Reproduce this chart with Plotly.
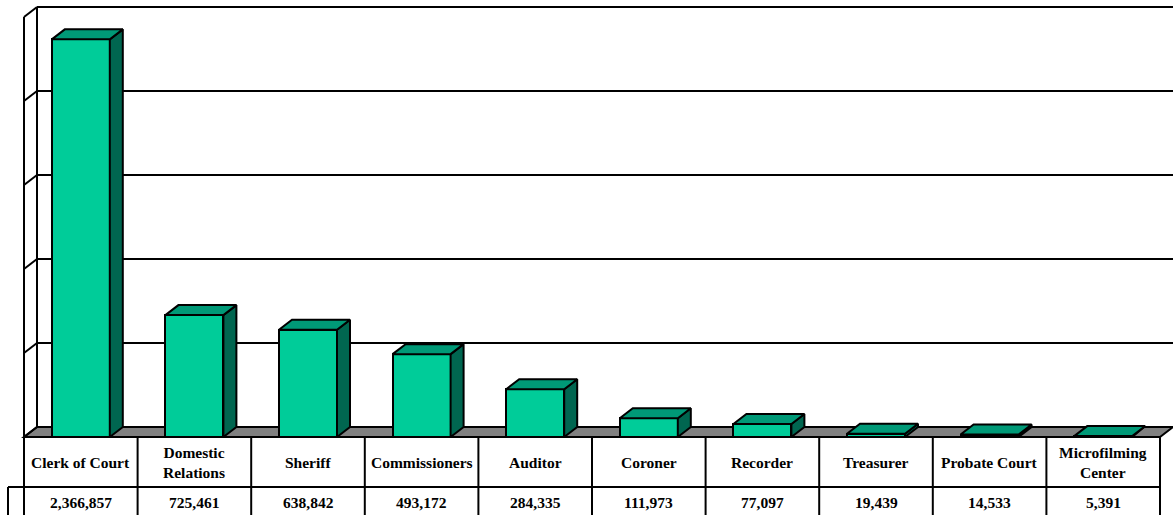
import plotly.graph_objects as go

# ---------------- data ----------------
categories = ["Clerk of Court", "Domestic Relations", "Sheriff", "Commissioners",
              "Auditor", "Coroner", "Recorder", "Treasurer", "Probate Court",
              "Microfilming Center"]
tick_labels = ["Clerk of Court", "Domestic<br>Relations", "Sheriff", "Commissioners",
               "Auditor", "Coroner", "Recorder", "Treasurer", "Probate Court",
               "Microfilming<br>Center"]
values = [2366857, 725461, 638842, 493172, 284335, 111973, 77097, 19439, 14533, 5391]
grid_values = [0, 500000, 1000000, 1500000, 2000000, 2500000]

# ---------------- layout geometry (pixels -> data units) ----------------
W, H = 1173, 515
COL = 113.6          # px per category
X0PX = 24            # px of left edge of first column (front plane)
FLOOR_PX = 437       # px row of value 0 on the front plane
PLOT_H_PX = 420      # px for the full value range
YMAX = grid_values[-1]
KY = YMAX / PLOT_H_PX
xmin = -0.5 - X0PX / COL
xmax = xmin + W / COL
ytop = FLOOR_PX * KY
ybot = -(H - FLOOR_PX) * KY
DX = 13 / COL        # 3D depth offset
DY = 10 * KY
BW = 58 / COL        # bar width
n = len(values)


def py(px):
    return ytop - px * KY


def pxx(px):
    return xmin + px / COL


FRONT = "#00CC99"
TOP = "#009977"
SIDE = "#006650"
FLOOR = "#808080"

fig = go.Figure()

# front faces of the bars
fig.add_trace(go.Bar(
    x=list(range(n)), y=values, width=BW,
    marker=dict(color=FRONT, line=dict(color="black", width=2)),
    hoverinfo="skip", showlegend=False))

# top and side faces
tx, ty, sx, sy = [], [], [], []
for i, v in enumerate(values):
    l, r = i - BW / 2, i + BW / 2
    tx += [l, r, r + DX, l + DX, l, None]
    ty += [v, v, v + DY, v + DY, v, None]
    sx += [r, r + DX, r + DX, r, r, None]
    sy += [0, DY, v + DY, v, 0, None]
fig.add_trace(go.Scatter(x=sx, y=sy, mode="lines", fill="toself", fillcolor=SIDE,
                         line=dict(color="black", width=2), hoverinfo="skip",
                         showlegend=False))
fig.add_trace(go.Scatter(x=tx, y=ty, mode="lines", fill="toself", fillcolor=TOP,
                         line=dict(color="black", width=2), hoverinfo="skip",
                         showlegend=False))

shapes = []
L = -0.5
R = n - 0.5
# floor
shapes.append(dict(type="path", xref="x", yref="y", layer="below",
                   path=f"M {L},0 L {R},0 L {R+DX},{DY} L {L+DX},{DY} Z",
                   fillcolor=FLOOR, line=dict(color="black", width=2)))
# back wall gridlines and left wall
for g in grid_values[1:]:
    shapes.append(dict(type="line", xref="x", yref="y", layer="below",
                       x0=L + DX, x1=R + DX + 1, y0=g + DY, y1=g + DY,
                       line=dict(color="black", width=2)))
for g in grid_values:
    shapes.append(dict(type="line", xref="x", yref="y", layer="below",
                       x0=L, x1=L + DX, y0=g, y1=g + DY,
                       line=dict(color="black", width=2)))
shapes.append(dict(type="line", xref="x", yref="y", layer="below",
                   x0=L + DX, x1=L + DX, y0=DY, y1=YMAX + DY,
                   line=dict(color="black", width=2)))
shapes.append(dict(type="line", xref="x", yref="y", layer="below",
                   x0=L, x1=L, y0=0, y1=YMAX,
                   line=dict(color="black", width=2)))

# data table
row1_bot = py(487)
tbl_bot = py(520)
for k in range(n + 1):
    shapes.append(dict(type="line", xref="x", yref="y",
                       x0=L + k, x1=L + k, y0=0, y1=tbl_bot,
                       line=dict(color="black", width=2)))
shapes.append(dict(type="line", xref="x", yref="y",
                   x0=pxx(8), x1=R, y0=row1_bot, y1=row1_bot,
                   line=dict(color="black", width=2)))
shapes.append(dict(type="line", xref="x", yref="y",
                   x0=pxx(8), x1=pxx(8), y0=row1_bot, y1=tbl_bot,
                   line=dict(color="black", width=2)))

annotations = []
FONT = dict(family="Liberation Serif, Times New Roman, serif", size=15.5, color="black")
for i, (lab, v) in enumerate(zip(tick_labels, values)):
    annotations.append(dict(x=i, y=py(462), xref="x", yref="y", text=f"<b>{lab}</b>",
                            showarrow=False, font=FONT, xanchor="center", yanchor="middle"))
    annotations.append(dict(x=i, y=py(502), xref="x", yref="y", text=f"<b>{v:,}</b>",
                            showarrow=False, font=FONT, xanchor="center", yanchor="middle"))

fig.update_layout(
    width=W, height=H, autosize=False,
    margin=dict(l=0, r=0, t=0, b=0, pad=0),
    paper_bgcolor="white", plot_bgcolor="white",
    xaxis=dict(range=[xmin, xmax], visible=False, fixedrange=True),
    yaxis=dict(range=[ybot, ytop], visible=False, fixedrange=True),
    shapes=shapes, annotations=annotations, showlegend=False, bargap=0,
)

fig.write_html("out.html", config={"displayModeBar": False},
               post_script="document.body.style.margin='0';document.body.style.overflow='hidden';")
